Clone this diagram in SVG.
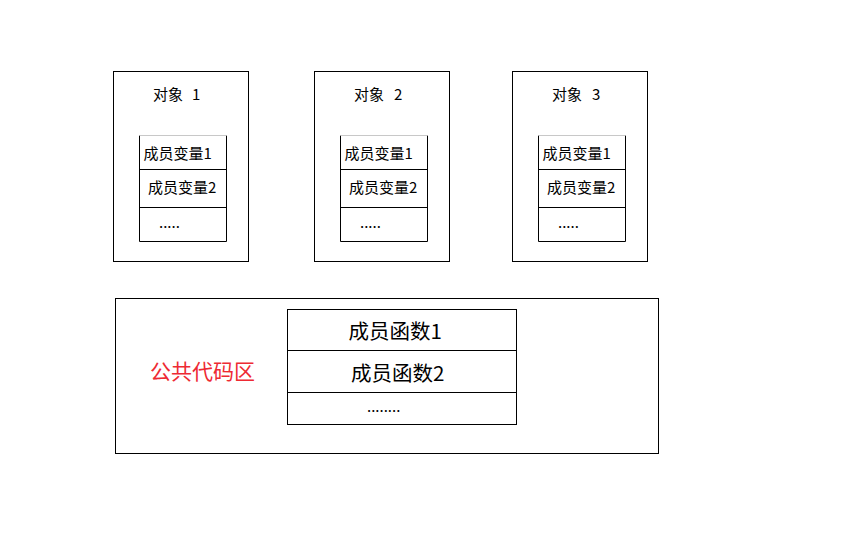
<svg xmlns="http://www.w3.org/2000/svg" width="846" height="542" viewBox="0 0 846 542">
<style>
.box{fill:#fff;stroke:#000;stroke-width:1}
.ln{stroke:#000;stroke-width:1;fill:none}
.top{stroke:#c8c8c8;stroke-width:1}
.t{font-family:"Microsoft YaHei","Noto Sans CJK SC",sans-serif;fill:#000}
.s{font-size:15px}
.b{font-size:20.5px}
.red{font-size:21px;fill:#ee2a33}
</style>
<rect width="846" height="542" fill="#fff"/>
<g id="obj1" transform="translate(0,0)">
<rect class="box" x="113.5" y="71.5" width="135" height="190"/>
<text class="t s" x="153" y="100">对象<tspan x="192">1</tspan></text>
<rect x="139.5" y="135.5" width="87" height="106" fill="#fff" stroke="none"/>
<path class="ln" d="M139.5 135.5V241.5H226.5V135.5M139.5 169.5H226.5M139.5 207.5H226.5"/>
<path class="top" d="M139.5 135.5H226.5"/>
<text class="t s" x="143.5" y="159">成员变量1</text>
<text class="t s" x="148" y="193">成员变量2</text>
<text class="t s" x="159" y="228">.....</text>
</g>
<g id="obj2" transform="translate(201,0)">
<rect class="box" x="113.5" y="71.5" width="135" height="190"/>
<text class="t s" x="153" y="100">对象<tspan x="193">2</tspan></text>
<rect x="139.5" y="135.5" width="87" height="106" fill="#fff" stroke="none"/>
<path class="ln" d="M139.5 135.5V241.5H226.5V135.5M139.5 169.5H226.5M139.5 207.5H226.5"/>
<path class="top" d="M139.5 135.5H226.5"/>
<text class="t s" x="143.5" y="159">成员变量1</text>
<text class="t s" x="148" y="193">成员变量2</text>
<text class="t s" x="159" y="228">.....</text>
</g>
<g id="obj3" transform="translate(399,0)">
<rect class="box" x="113.5" y="71.5" width="135" height="190"/>
<text class="t s" x="153" y="100">对象<tspan x="193">3</tspan></text>
<rect x="139.5" y="135.5" width="87" height="106" fill="#fff" stroke="none"/>
<path class="ln" d="M139.5 135.5V241.5H226.5V135.5M139.5 169.5H226.5M139.5 207.5H226.5"/>
<path class="top" d="M139.5 135.5H226.5"/>
<text class="t s" x="143.5" y="159">成员变量1</text>
<text class="t s" x="148" y="193">成员变量2</text>
<text class="t s" x="159" y="228">.....</text>
</g>
<g id="code">
<rect class="box" x="115.5" y="298.5" width="543" height="155"/>
<text class="t red" x="150" y="379">公共代码区</text>
<rect class="box" x="287.5" y="309.5" width="229" height="115"/>
<path class="ln" d="M287.5 350.5H516.5M287.5 392.5H516.5"/>
<text class="t b" x="348.5" y="339">成员函数1</text>
<text class="t b" x="351" y="381">成员函数2</text>
<text class="t s" x="367" y="412">........</text>
</g>
<g id="connectors"></g>
</svg>
